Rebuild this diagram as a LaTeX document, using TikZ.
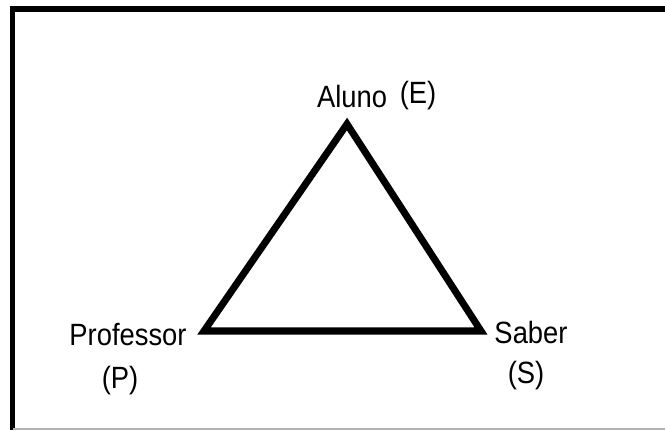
\documentclass[tikz,border=0pt]{standalone}
\usepackage{fontspec}
\setmainfont[FakeStretch=0.89]{Liberation Sans}
\usetikzlibrary{positioning}

\begin{document}
\begin{tikzpicture}[x=0.02cm, y=-0.02cm,
    lbl/.style={font=\fontsize{17.5}{20}\selectfont, inner sep=0pt, anchor=base}]
  \useasboundingbox (0,0) rectangle (665,430);
  % moldura
  \draw[line width=2.9pt] (12.5,430) -- (12.5,9) -- (665,9);
  \draw[black!30, line width=0.8pt] (12.5,429) -- (665,429);
  % triangulo didatico
  \coordinate (E) at (347,124);
  \coordinate (P) at (204,331);
  \coordinate (S) at (481,331);
  \draw[line width=4pt, line join=miter] (E) -- (P) -- (S) -- cycle;
  % rotulos
  \node[lbl] (aluno) at (352,107) {Aluno};
  \node[lbl] (eLbl) at (418,103) {(E)};
  \node[lbl] (professor) at (128,345) {Professor};
  \node[lbl] (pLbl) at (120,388) {(P)};
  \node[lbl] (saber) at (531,343) {Saber};
  \node[lbl] (sLbl) at (526,383) {(S)};
\end{tikzpicture}
\end{document}
